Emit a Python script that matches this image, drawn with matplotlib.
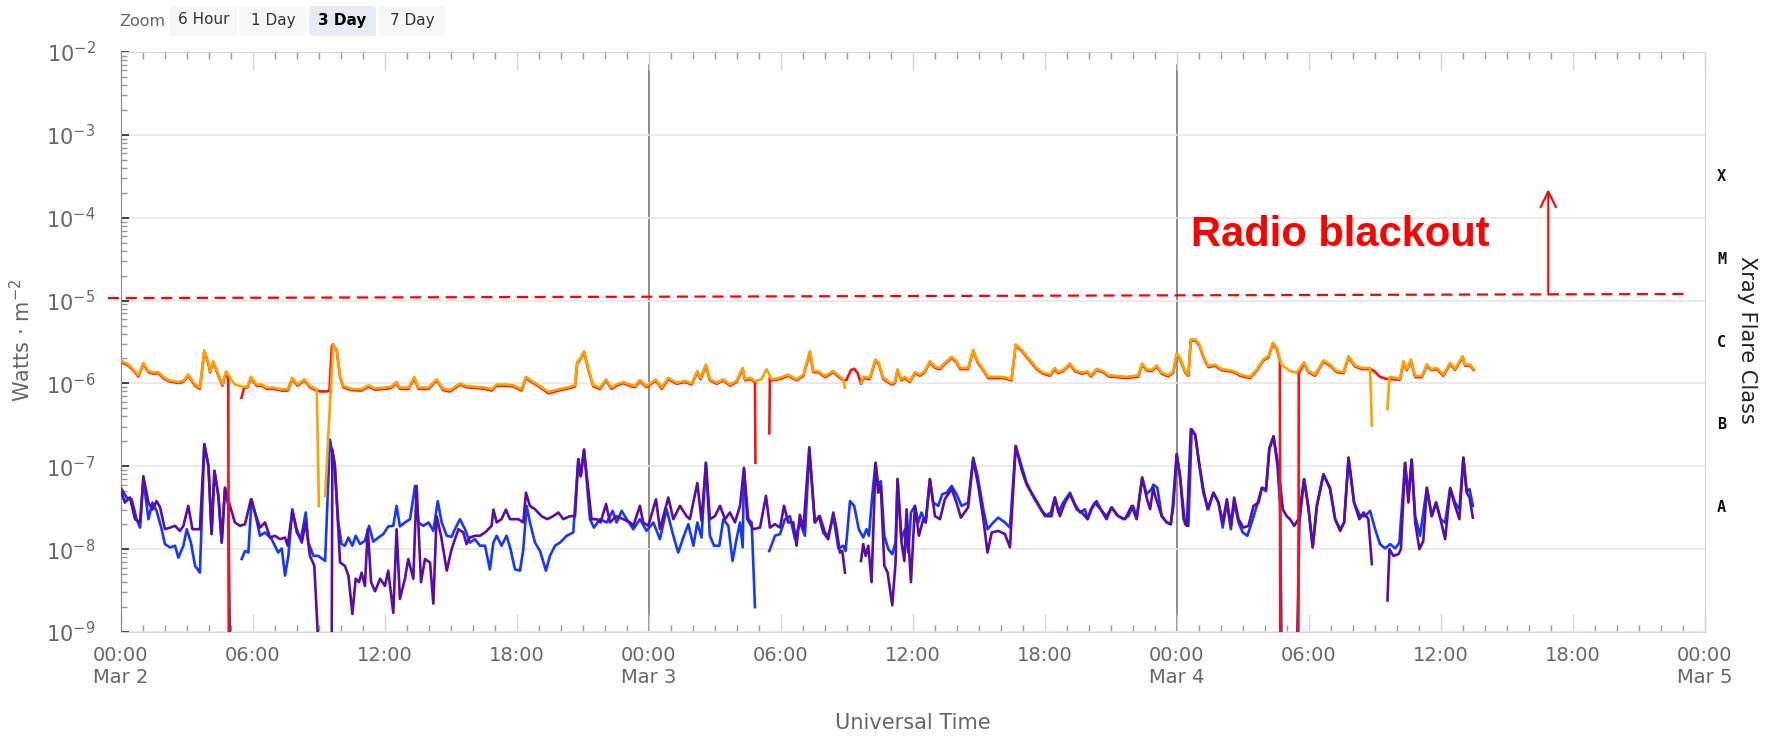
import numpy as np
import matplotlib
matplotlib.use("Agg")
import matplotlib.pyplot as plt
from matplotlib import ticker, transforms
from matplotlib.patches import FancyBboxPatch

nan = np.nan

# long channel, (hours since Mar 2 00:00 UT, flux in 1e-6 W/m2)
orange_long = [
    (0.05, 1.86), (0.36, 1.69), (0.58, 1.48), (0.81, 1.25), (1.04, 1.77), (1.27, 1.41), (1.49, 1.35),
    (1.72, 1.37), (1.95, 1.20), (2.17, 1.10), (2.63, 1.04), (2.85, 1.07), (3.08, 1.28), (3.39, 0.97),
    (3.61, 0.89), (3.81, 2.50), (4.00, 1.77), (4.07, 1.40), (4.22, 1.86), (4.45, 1.28), (4.63, 0.97),
    (4.80, 1.40), (4.98, 1.17), (5.20, 0.97), (5.58, 0.91), (5.78, 0.92), (5.93, 1.20), (6.19, 0.97),
    (6.42, 0.97), (6.64, 0.89), (6.95, 0.89), (7.33, 0.85), (7.60, 0.85), (7.81, 1.17), (8.05, 0.97),
    (8.36, 1.12), (8.61, 0.93), (8.92, 0.85), (9.02, 0.033), (9.1, nan), (9.30, 0.044), (9.67, 2.95),
    (9.83, 2.56), (9.98, 1.23), (10.13, 0.93), (10.50, 0.86), (10.96, 0.85), (11.27, 0.95), (11.57, 0.87),
    (12.00, 0.89), (12.30, 0.91), (12.55, 1.04), (12.70, 0.89), (13.10, 0.89), (13.36, 1.20), (13.54, 0.89),
    (14.00, 0.89), (14.37, 1.12), (14.67, 0.86), (14.98, 0.83), (15.43, 1.00), (15.73, 0.93), (16.19, 0.91),
    (16.57, 0.89), (16.87, 0.85), (17.10, 0.97), (17.55, 0.97), (17.85, 0.95), (18.23, 0.85), (18.43, 1.20),
    (18.69, 1.07), (19.07, 0.93), (19.45, 0.79), (19.98, 0.86), (20.43, 0.91), (20.66, 0.95), (20.76, 1.80),
    (20.91, 2.03), (21.07, 2.45), (21.26, 1.54), (21.49, 0.95), (21.79, 0.89), (22.07, 1.12), (22.32, 0.89),
    (22.55, 0.97), (22.85, 1.04), (23.16, 0.97), (23.38, 0.93), (23.61, 1.10), (23.91, 0.93), (24.34, 1.12),
    (24.60, 0.89), (24.90, 1.17), (25.28, 1.02), (25.66, 1.07), (25.96, 1.00), (26.22, 1.41), (26.37, 1.17),
    (26.61, 1.69), (26.79, 1.12), (27.10, 1.02), (27.40, 1.12), (27.70, 0.97), (28.00, 1.07), (28.28, 1.54),
    (28.39, 1.12), (28.61, 1.17), (28.84, 1.07), (29.14, 1.12), (29.37, 1.48), (29.60, 1.12), (29.98, 1.17),
    (30.35, 1.28), (30.73, 1.12), (31.04, 1.28), (31.34, 2.45), (31.49, 1.41), (31.72, 1.41), (32.02, 1.23),
    (32.40, 1.41), (32.63, 1.25), (32.85, 1.12), (32.93, 0.89), (33.0, nan), (33.66, 1.02), (33.76, 1.20),
    (34.06, 1.17), (34.32, 1.95), (34.47, 1.77), (34.67, 1.17), (35.05, 1.00), (35.20, 1.04), (35.32, 1.48),
    (35.50, 1.12), (35.66, 1.20), (35.88, 1.07), (36.11, 1.37), (36.34, 1.28), (36.56, 1.41), (36.79, 1.86),
    (37.02, 1.59), (37.25, 1.54), (37.47, 1.77), (37.78, 2.10), (38.00, 1.86), (38.16, 1.54), (38.53, 1.54),
    (38.76, 2.56), (38.96, 1.86), (39.22, 1.48), (39.44, 1.20), (39.75, 1.20), (40.13, 1.20), (40.50, 1.12),
    (40.69, 2.95), (40.96, 2.56), (41.26, 2.04), (41.64, 1.54), (41.94, 1.35), (42.25, 1.28), (42.47, 1.54),
    (42.63, 1.37), (42.85, 1.45), (43.16, 1.74), (43.38, 1.45), (43.69, 1.35), (43.96, 1.40), (44.11, 1.25),
    (44.37, 1.50), (44.67, 1.40), (44.93, 1.25), (45.35, 1.23), (45.73, 1.20), (46.26, 1.25), (46.44, 1.74),
    (46.64, 1.48), (46.87, 1.45), (47.10, 1.65), (47.33, 1.35), (47.63, 1.25), (47.86, 1.41), (48.01, 2.30),
    (48.16, 2.04), (48.39, 1.41), (48.54, 1.28), (48.65, 3.40), (48.85, 3.40), (49.04, 3.00), (49.22, 2.14),
    (49.45, 1.62), (49.75, 1.69), (50.06, 1.48), (50.36, 1.45), (50.59, 1.41), (50.89, 1.28), (51.35, 1.20),
    (51.65, 1.48), (51.95, 1.95), (52.18, 2.14), (52.38, 3.10), (52.56, 2.70), (52.78, 1.69), (53.16, 1.41),
    (53.47, 1.35), (53.80, 1.80), (54.00, 1.41), (54.30, 1.28), (54.68, 1.90), (54.98, 1.69), (55.28, 1.41),
    (55.59, 1.37), (55.82, 2.14), (56.12, 1.65), (56.42, 1.54), (56.80, 1.54), (56.88, 0.31), (57.0, nan),
    (57.59, 0.49), (57.68, 1.20), (58.16, 1.14), (58.32, 1.86), (58.47, 1.48), (58.66, 1.95), (58.85, 1.23),
    (59.15, 1.23), (59.38, 1.69), (59.60, 1.48), (59.83, 1.54), (60.13, 1.28), (60.44, 1.77), (60.66, 1.50),
    (61.01, 2.14), (61.12, 1.69), (61.35, 1.69), (61.50, 1.50),
]

red_long = [
    (0.05, 1.80), (0.36, 1.64), (0.58, 1.44), (0.81, 1.21), (1.04, 1.72), (1.27, 1.37), (1.49, 1.31),
    (1.72, 1.33), (1.95, 1.16), (2.17, 1.07), (2.63, 1.01), (2.85, 1.04), (3.08, 1.24), (3.39, 0.94),
    (3.61, 0.86), (3.81, 2.45), (4.00, 1.72), (4.07, 1.36), (4.22, 1.80), (4.45, 1.24), (4.63, 0.94),
    (4.80, 1.36), (4.90, 1.15), (4.92, 0.0005), (5.2, nan), (5.50, 0.67), (5.62, 0.89), (5.78, 0.90),
    (5.93, 1.16), (6.19, 0.94), (6.42, 0.94), (6.64, 0.86), (6.95, 0.86), (7.33, 0.82), (7.60, 0.82),
    (7.81, 1.13), (8.05, 0.94), (8.36, 1.09), (8.61, 0.90), (8.92, 0.82), (9.10, 0.80), (9.35, 0.80),
    (9.50, 0.82), (9.60, 2.70), (9.65, 2.95), (9.83, 2.50), (9.98, 1.20), (10.13, 0.90), (10.50, 0.83),
    (10.96, 0.82), (11.27, 0.92), (11.57, 0.84), (12.00, 0.86), (12.30, 0.88), (12.55, 1.01), (12.70, 0.86),
    (13.10, 0.86), (13.36, 1.16), (13.54, 0.86), (14.00, 0.86), (14.37, 1.09), (14.67, 0.83), (14.98, 0.80),
    (15.43, 0.97), (15.73, 0.90), (16.19, 0.88), (16.57, 0.86), (16.87, 0.82), (17.10, 0.94), (17.55, 0.94),
    (17.85, 0.92), (18.23, 0.82), (18.43, 1.16), (18.69, 1.04), (19.07, 0.90), (19.45, 0.76), (19.98, 0.83),
    (20.43, 0.88), (20.66, 0.92), (20.76, 1.75), (20.91, 1.97), (21.07, 2.38), (21.26, 1.49), (21.49, 0.92),
    (21.79, 0.86), (22.07, 1.09), (22.32, 0.86), (22.55, 0.94), (22.85, 1.01), (23.16, 0.94), (23.38, 0.90),
    (23.61, 1.07), (23.91, 0.90), (24.34, 1.09), (24.60, 0.86), (24.90, 1.13), (25.28, 0.99), (25.66, 1.04),
    (25.96, 0.97), (26.22, 1.37), (26.37, 1.13), (26.61, 1.64), (26.79, 1.09), (27.10, 0.99), (27.40, 1.09),
    (27.70, 0.94), (28.00, 1.04), (28.28, 1.49), (28.39, 1.09), (28.61, 1.13), (28.84, 1.04), (28.86, 0.11),
    (29.0, nan), (29.49, 0.25), (29.52, 1.20), (29.60, 1.09), (29.98, 1.13), (30.35, 1.24), (30.73, 1.09),
    (31.04, 1.24), (31.34, 2.38), (31.49, 1.37), (31.72, 1.37), (32.02, 1.19), (32.40, 1.37), (32.63, 1.21),
    (32.85, 1.09), (33.00, 1.10), (33.20, 1.45), (33.35, 1.50), (33.50, 1.35), (33.66, 0.99), (33.76, 1.16),
    (34.06, 1.13), (34.32, 1.90), (34.47, 1.72), (34.67, 1.13), (35.05, 0.97), (35.20, 1.01), (35.32, 1.44),
    (35.50, 1.09), (35.66, 1.16), (35.88, 1.04), (36.11, 1.33), (36.34, 1.24), (36.56, 1.37), (36.79, 1.80),
    (37.02, 1.54), (37.25, 1.49), (37.47, 1.72), (37.78, 2.04), (38.00, 1.80), (38.16, 1.49), (38.53, 1.49),
    (38.76, 2.48), (38.96, 1.80), (39.22, 1.44), (39.44, 1.16), (39.75, 1.16), (40.13, 1.16), (40.50, 1.09),
    (40.69, 2.86), (40.96, 2.48), (41.26, 1.98), (41.64, 1.49), (41.94, 1.31), (42.25, 1.24), (42.47, 1.49),
    (42.63, 1.33), (42.85, 1.41), (43.16, 1.69), (43.38, 1.41), (43.69, 1.31), (43.96, 1.36), (44.11, 1.21),
    (44.37, 1.46), (44.67, 1.36), (44.93, 1.21), (45.35, 1.19), (45.73, 1.16), (46.26, 1.21), (46.44, 1.69),
    (46.64, 1.44), (46.87, 1.41), (47.10, 1.60), (47.33, 1.31), (47.63, 1.21), (47.86, 1.37), (48.01, 2.23),
    (48.16, 1.98), (48.39, 1.37), (48.54, 1.24), (48.65, 3.30), (48.85, 3.30), (49.04, 2.91), (49.22, 2.08),
    (49.45, 1.57), (49.75, 1.64), (50.06, 1.44), (50.36, 1.41), (50.59, 1.37), (50.89, 1.24), (51.35, 1.16),
    (51.65, 1.44), (51.95, 1.89), (52.18, 2.08), (52.38, 3.00), (52.56, 2.62), (52.70, 1.90), (52.72, 0.0005),
    (53.0, nan), (53.54, 0.0005), (53.56, 1.33), (53.80, 1.75), (54.00, 1.37), (54.30, 1.24), (54.68, 1.84),
    (54.98, 1.64), (55.28, 1.37), (55.59, 1.33), (55.82, 2.08), (56.12, 1.60), (56.42, 1.49), (56.80, 1.50),
    (57.00, 1.40), (57.25, 1.20), (57.50, 1.14), (57.68, 1.13), (58.16, 1.11), (58.32, 1.80), (58.47, 1.44),
    (58.66, 1.89), (58.85, 1.19), (59.15, 1.19), (59.38, 1.64), (59.60, 1.44), (59.83, 1.49), (60.13, 1.24),
    (60.44, 1.72), (60.66, 1.46), (61.01, 2.08), (61.12, 1.64), (61.35, 1.64), (61.50, 1.46),
]

# short channel, flux in 1e-8 W/m2
blue_short = [
    (0.05, 5.3), (0.28, 4.2), (0.51, 4.0), (0.73, 2.3), (0.89, 1.82), (1.04, 7.0), (1.27, 2.3),
    (1.45, 3.65), (1.64, 2.9), (1.87, 1.74), (2.02, 1.15), (2.25, 1.05), (2.48, 1.10), (2.63, 0.79),
    (2.86, 1.10), (3.01, 1.74), (3.20, 1.20), (3.39, 0.63), (3.61, 0.52), (3.81, 18.5), (4.00, 10.0),
    (4.14, 1.52), (4.27, 8.8), (4.45, 4.4), (4.60, 1.20), (4.75, 5.5), (4.90, 3.33), (4.98, 0.05),
    (5.2, nan), (5.51, 0.76), (5.66, 0.95), (5.81, 0.91), (5.96, 4.0), (6.11, 2.77), (6.34, 1.45),
    (6.57, 1.59), (6.87, 1.32), (7.17, 0.91), (7.33, 1.02), (7.48, 0.48), (7.63, 0.83), (7.81, 3.03),
    (8.01, 1.59), (8.20, 1.32), (8.42, 2.77), (8.54, 1.20), (8.77, 0.83), (8.99, 0.83), (9.30, 0.72),
    (9.52, 21.0), (9.72, 11.0), (9.90, 2.10), (10.05, 1.15), (10.20, 1.10), (10.36, 1.38), (10.54, 1.10),
    (10.69, 1.45), (10.89, 1.15), (11.11, 1.26), (11.30, 1.91), (11.49, 1.23), (11.72, 1.38), (11.95, 1.52),
    (12.17, 1.88), (12.40, 1.91), (12.55, 3.33), (12.70, 1.88), (12.93, 2.10), (13.16, 2.30), (13.39, 5.8),
    (13.54, 2.10), (13.77, 1.91), (14.00, 2.10), (14.22, 1.66), (14.42, 3.8), (14.60, 2.10), (14.83, 1.45),
    (15.05, 1.41), (15.20, 1.74), (15.43, 2.30), (15.66, 1.74), (15.88, 1.20), (16.11, 1.32), (16.34, 1.10),
    (16.57, 1.10), (16.79, 0.57), (16.95, 1.20), (17.10, 1.45), (17.32, 1.10), (17.55, 1.45), (17.73, 1.00),
    (17.93, 0.57), (18.16, 0.55), (18.31, 1.00), (18.46, 3.33), (18.61, 2.10), (18.84, 1.20), (19.07, 0.95),
    (19.34, 0.55), (19.52, 0.83), (19.75, 1.10), (19.98, 1.20), (20.28, 1.45), (20.58, 1.59), (20.81, 12.2),
    (20.92, 7.6), (21.07, 16.0), (21.34, 2.30), (21.52, 1.82), (21.79, 2.30), (22.10, 2.10), (22.37, 2.90),
    (22.55, 2.10), (22.78, 2.90), (23.01, 2.30), (23.31, 1.74), (23.61, 2.30), (23.91, 1.66), (24.22, 2.10),
    (24.52, 1.32), (24.82, 3.03), (25.13, 1.45), (25.35, 0.91), (25.58, 1.38), (25.81, 2.00), (26.04, 1.10),
    (26.22, 2.10), (26.41, 1.38), (26.61, 11.0), (26.79, 1.45), (26.98, 1.10), (27.22, 1.10), (27.40, 2.30),
    (27.63, 1.91), (27.82, 0.72), (28.00, 1.32), (28.16, 2.10), (28.28, 1.05), (28.34, 9.2), (28.54, 2.30),
    (28.69, 2.10), (28.84, 0.20), (29.0, nan), (29.49, 0.95), (29.75, 1.45), (29.98, 1.52), (30.20, 2.30),
    (30.43, 2.50), (30.66, 1.32), (30.88, 2.10), (31.11, 1.45), (31.31, 16.0), (31.56, 2.10), (31.79, 2.50),
    (32.02, 1.59), (32.17, 1.45), (32.40, 2.50), (32.63, 1.02), (32.85, 1.10), (32.96, 0.95), (33.16, 3.8),
    (33.35, 3.33), (33.56, 1.74), (33.76, 1.38), (33.91, 1.74), (34.02, 1.45), (34.17, 4.4), (34.32, 11.0),
    (34.47, 5.3), (34.56, 6.6), (34.72, 1.45), (34.90, 1.00), (35.08, 0.87), (35.23, 1.20), (35.32, 7.0),
    (35.50, 1.32), (35.66, 1.74), (35.81, 0.91), (35.93, 2.77), (36.11, 3.33), (36.26, 2.10), (36.41, 2.77),
    (36.60, 2.10), (36.79, 7.0), (36.94, 3.65), (37.17, 3.33), (37.35, 4.6), (37.55, 4.8), (37.78, 5.8),
    (38.00, 4.6), (38.23, 3.33), (38.53, 3.65), (38.76, 12.7), (38.96, 7.6), (39.22, 3.03), (39.41, 1.74),
    (39.67, 2.10), (39.90, 2.40), (40.20, 2.10), (40.43, 1.82), (40.69, 17.6), (40.96, 10.0), (41.19, 6.3),
    (41.41, 4.8), (41.72, 3.5), (42.02, 2.5), (42.29, 2.77), (42.47, 4.2), (42.63, 2.77), (42.85, 3.65),
    (43.16, 4.8), (43.38, 3.5), (43.61, 2.77), (43.84, 3.03), (43.96, 2.30), (44.14, 3.03), (44.37, 3.8),
    (44.60, 2.9), (44.82, 2.5), (45.05, 3.2), (45.28, 2.6), (45.58, 2.3), (45.81, 2.5), (46.03, 3.33),
    (46.19, 2.4), (46.44, 7.3), (46.64, 4.6), (46.87, 5.3), (46.95, 6.0), (47.13, 5.5), (47.33, 2.5),
    (47.56, 2.1), (47.74, 2.0), (47.86, 3.33), (48.01, 14.0), (48.16, 7.6), (48.39, 2.0), (48.54, 1.91),
    (48.69, 28.0), (48.85, 24.0), (49.04, 10.0), (49.22, 4.8), (49.45, 3.03), (49.68, 4.8), (49.91, 3.65),
    (50.10, 1.82), (50.29, 3.65), (50.47, 1.74), (50.62, 3.65), (50.82, 2.10), (51.01, 1.59), (51.22, 1.45),
    (51.42, 2.10), (51.65, 3.33), (51.88, 5.5), (52.07, 5.0), (52.22, 16.0), (52.41, 23.0), (52.59, 10.0),
    (52.71, 3.33), (52.78, 0.05), (53.0, nan), (53.47, 0.05), (53.59, 2.10), (53.80, 7.0), (54.00, 3.03),
    (54.19, 1.05), (54.38, 3.33), (54.68, 8.0), (54.98, 5.5), (55.21, 2.3), (55.44, 1.74), (55.62, 2.10),
    (55.82, 12.7), (56.07, 3.65), (56.35, 2.5), (56.57, 2.5), (56.80, 2.9), (57.03, 1.74), (57.25, 1.15),
    (57.48, 1.02), (57.71, 1.15), (57.94, 1.02), (58.13, 1.2), (58.39, 11.0), (58.54, 4.4), (58.69, 12.0),
    (58.85, 2.5), (59.07, 1.45), (59.38, 5.5), (59.60, 2.5), (59.80, 3.65), (60.00, 2.3), (60.21, 2.1),
    (60.44, 5.5), (60.66, 3.65), (60.86, 3.03), (61.04, 12.7), (61.19, 5.0), (61.32, 5.3), (61.47, 3.33),
]

purple_short = [
    (0.05, 4.8), (0.20, 3.65), (0.43, 4.2), (0.66, 2.3), (0.89, 2.1), (1.04, 7.6), (1.27, 3.65),
    (1.45, 3.0), (1.64, 3.8), (1.80, 3.2), (2.02, 1.74), (2.25, 1.82), (2.48, 1.91), (2.70, 1.66),
    (2.86, 1.91), (3.08, 3.33), (3.27, 1.74), (3.61, 1.74), (3.81, 18.5), (4.00, 10.0), (4.14, 1.52),
    (4.27, 8.8), (4.45, 4.4), (4.60, 1.2), (4.75, 5.5), (4.98, 3.3), (5.20, 2.1), (5.43, 1.91),
    (5.66, 2.0), (5.93, 4.0), (6.11, 2.77), (6.34, 1.82), (6.57, 2.1), (6.80, 1.38), (7.02, 1.45),
    (7.25, 1.32), (7.48, 1.38), (7.60, 1.1), (7.81, 2.9), (8.01, 1.74), (8.24, 1.2), (8.42, 2.1),
    (8.61, 0.83), (8.81, 0.63), (9.02, 0.05), (9.3, nan), (9.60, 0.05), (9.63, 16.0), (9.75, 10.0),
    (9.98, 0.69), (10.20, 0.63), (10.36, 0.48), (10.54, 0.165), (10.69, 0.44), (10.84, 0.40), (10.96, 0.52),
    (11.11, 0.36), (11.24, 1.74), (11.39, 0.40), (11.57, 0.31), (11.80, 0.44), (12.02, 0.36), (12.17, 0.55),
    (12.40, 0.17), (12.55, 1.74), (12.70, 0.25), (12.93, 0.44), (13.08, 0.76), (13.31, 0.44), (13.46, 5.8),
    (13.66, 0.40), (13.84, 0.76), (14.07, 0.69), (14.22, 0.22), (14.37, 2.5), (14.57, 1.45), (14.83, 0.55),
    (15.05, 1.0), (15.36, 1.74), (15.58, 1.59), (15.73, 1.15), (15.88, 1.38), (16.11, 1.45), (16.34, 1.45),
    (16.57, 1.59), (16.87, 1.91), (16.95, 3.0), (17.10, 2.1), (17.32, 2.3), (17.52, 3.0), (17.70, 2.3),
    (18.08, 2.3), (18.31, 2.1), (18.43, 4.8), (18.61, 3.33), (18.84, 3.03), (19.14, 2.5), (19.40, 2.3),
    (19.67, 2.5), (19.90, 2.77), (20.13, 2.3), (20.43, 2.5), (20.66, 2.5), (20.81, 12.2), (20.92, 7.6),
    (21.07, 15.7), (21.26, 5.3), (21.41, 2.3), (21.64, 2.3), (21.82, 2.1), (22.07, 3.5), (22.25, 2.1),
    (22.52, 2.5), (22.85, 2.3), (23.16, 2.1), (23.31, 1.91), (23.61, 3.33), (23.76, 2.1), (23.99, 1.91),
    (24.34, 4.0), (24.52, 1.74), (24.90, 4.2), (25.13, 2.3), (25.43, 3.33), (25.73, 2.5), (25.88, 2.3),
    (26.22, 6.3), (26.41, 2.2), (26.61, 11.0), (26.79, 2.3), (27.02, 2.5), (27.25, 3.33), (27.48, 2.3),
    (27.70, 2.77), (27.93, 2.1), (28.16, 3.33), (28.34, 9.6), (28.49, 2.3), (28.76, 1.74), (29.07, 1.82),
    (29.34, 4.4), (29.52, 1.82), (29.75, 2.0), (29.98, 1.82), (30.16, 3.33), (30.35, 2.1), (30.58, 2.1),
    (30.73, 1.1), (30.88, 2.6), (31.04, 1.74), (31.31, 17.0), (31.56, 2.1), (31.75, 2.5), (31.94, 1.59),
    (32.17, 1.32), (32.40, 2.77), (32.55, 1.74), (32.70, 0.91), (32.81, 0.95), (32.93, 0.52), (33.2, nan),
    (33.66, 0.72), (33.76, 1.15), (33.87, 0.83), (33.99, 1.1), (34.14, 0.40), (34.32, 11.0), (34.44, 4.8),
    (34.56, 5.8), (34.72, 0.63), (34.87, 0.52), (35.08, 0.21), (35.23, 0.69), (35.32, 7.0), (35.50, 1.2),
    (35.63, 0.72), (35.73, 3.03), (35.93, 0.40), (36.11, 3.33), (36.29, 1.45), (36.49, 2.3), (36.60, 2.1),
    (36.79, 7.0), (37.02, 2.5), (37.25, 2.3), (37.47, 4.0), (37.78, 5.3), (38.00, 3.65), (38.20, 2.4),
    (38.53, 3.2), (38.76, 12.0), (38.99, 5.8), (39.22, 2.3), (39.41, 0.91), (39.60, 1.59), (39.90, 1.66),
    (40.20, 1.52), (40.43, 1.05), (40.69, 17.5), (40.96, 9.0), (41.19, 6.0), (41.56, 4.0), (41.87, 2.9),
    (42.10, 2.5), (42.32, 2.5), (42.47, 4.2), (42.70, 2.5), (42.93, 3.65), (43.16, 4.6), (43.46, 3.03),
    (43.69, 2.77), (43.96, 2.3), (44.11, 3.03), (44.29, 3.65), (44.60, 2.9), (44.82, 2.3), (45.05, 3.2),
    (45.35, 2.5), (45.66, 2.3), (45.96, 3.33), (46.19, 2.3), (46.44, 7.3), (46.64, 4.2), (46.80, 3.03),
    (46.94, 5.5), (47.03, 4.4), (47.33, 2.5), (47.56, 2.1), (47.74, 2.0), (47.83, 3.33), (48.01, 14.0),
    (48.16, 7.6), (48.32, 2.3), (48.47, 1.91), (48.65, 28.0), (48.85, 24.0), (49.04, 10.5), (49.22, 5.3),
    (49.41, 3.03), (49.68, 4.8), (49.91, 3.65), (50.10, 2.1), (50.29, 4.0), (50.47, 1.91), (50.62, 4.2),
    (50.82, 2.3), (51.04, 1.82), (51.27, 1.91), (51.50, 3.33), (51.73, 3.65), (51.88, 5.5), (52.07, 5.3),
    (52.22, 16.6), (52.41, 23.0), (52.63, 10.0), (52.83, 3.03), (53.01, 2.5), (53.16, 2.3), (53.35, 1.91),
    (53.54, 2.3), (53.80, 7.0), (54.00, 3.2), (54.19, 1.05), (54.38, 3.33), (54.68, 8.0), (54.98, 5.3),
    (55.21, 2.3), (55.44, 1.66), (55.62, 2.1), (55.82, 12.7), (56.07, 3.65), (56.31, 2.3), (56.50, 2.77),
    (56.72, 2.3), (56.88, 0.66), (57.0, nan), (57.59, 0.24), (57.68, 1.0), (57.86, 0.83), (58.09, 0.87),
    (58.20, 1.0), (58.39, 11.0), (58.54, 3.65), (58.69, 12.0), (58.85, 2.1), (59.04, 1.0), (59.22, 1.26),
    (59.38, 5.5), (59.60, 2.5), (59.80, 3.65), (60.00, 2.3), (60.21, 1.32), (60.44, 5.3), (60.66, 3.33),
    (60.86, 2.3), (61.04, 12.7), (61.19, 4.8), (61.32, 4.2), (61.47, 2.4),
]

x_ticks = [0, 6, 12, 18, 24, 30, 36, 42, 48, 54, 60, 66, 72]
x_tick_labels = ["00:00\nMar 2", "06:00", "12:00", "18:00", "00:00\nMar 3", "06:00", "12:00",
                 "18:00", "00:00\nMar 4", "06:00", "12:00", "18:00", "00:00\nMar 5"]
day_lines = [24, 48]
flare_classes = ["X", "M", "C", "B", "A"]
class_centers = [3.16e-4, 3.16e-5, 3.16e-6, 3.16e-7, 3.16e-8]
threshold_x = [-0.57, 71.1]
threshold_y = [1.07e-5, 1.20e-5]
arrow_x = 64.9
arrow_y = [1.19e-5, 2.2e-4]
zoom_buttons = ["6 Hour", "1 Day", "3 Day", "7 Day"]
selected_button = "3 Day"

W, H = 1779, 738
fig = plt.figure(figsize=(W / 100, H / 100), dpi=100)
ax = fig.add_axes([120.5 / W, 1 - 632 / H, 1584 / W, 580 / H])

def draw(series, scale, color, z):
    t, v = np.array(series, dtype=float).T
    ax.plot(t, v * scale, color=color, lw=1.9, zorder=z, solid_joinstyle="round")

draw(blue_short, 1e-8, "#1438ff", 3)
draw(purple_short, 1e-8, "#5a0ca8", 4)
draw(red_long, 1e-6, "#ff1010", 5)
draw(orange_long, 1e-6, "#ffa200", 6)

ax.set_yscale("log")
ax.set_ylim(1e-9, 1e-2)
ax.set_xlim(0, 72)

# grid + day markers
ax.grid(True, axis="y", which="major", color="#e6e6e6", lw=1.2, zorder=0)
for d in day_lines:
    ax.axvline(d, ymin=0, ymax=0.978, color="#7a7a7a", lw=1.2, zorder=1)

ax.set_xticks(x_ticks)
ax.set_xticklabels(x_tick_labels)
ax.set_xticks(range(0, 73), minor=True)
ax.tick_params(axis="x", which="major", direction="in", length=13, width=1, color="#ccd6eb",
               top=True, labelsize=14, labelcolor="#666666", pad=10)
ax.tick_params(axis="x", which="minor", direction="in", length=5, width=1, color="#999999", top=True)

ax.yaxis.set_major_locator(ticker.LogLocator(base=10, numticks=10))
ax.yaxis.set_minor_locator(ticker.LogLocator(base=10, subs=np.arange(2, 10), numticks=20))
ax.yaxis.set_minor_formatter(ticker.NullFormatter())
ax.tick_params(axis="y", which="major", direction="in", length=6, width=1.3, color="#333333",
               labelsize=15, labelcolor="#666666", pad=18)
ax.tick_params(axis="y", which="minor", direction="in", length=4, width=1, color="#999999")

for side in ["top", "right", "bottom"]:
    ax.spines[side].set_color("#ccd6eb")
ax.spines["left"].set_color("#888888")

fig.text(22 / W, 1 - 340 / H, "Watts · m$^{-2}$", rotation=90, ha="center", va="center",
         fontsize=15, color="#666666")
ax.set_xlabel("Universal Time", fontsize=15, color="#666666")
ax.xaxis.set_label_coords(0.5, -0.14)

# flare class labels on the right
trans = transforms.blended_transform_factory(ax.transAxes, ax.transData)
for lab, yc in zip(flare_classes, class_centers):
    ax.text(1.008, yc, lab, transform=trans, ha="left", va="center",
            fontsize=11, fontweight="bold", family="DejaVu Sans Mono", color="#111111")
ax.text(1.027, 0.503, "Xray Flare Class", transform=ax.transAxes, rotation=270,
        ha="center", va="center", fontsize=15, color="#222222")

# radio blackout threshold annotation
ax.plot(threshold_x, threshold_y, color="#ff0000", lw=1.6, ls=(0, (5, 3)), clip_on=False, zorder=7)
ax.annotate("", xy=(arrow_x, arrow_y[1]), xytext=(arrow_x, arrow_y[0]),
            arrowprops=dict(arrowstyle="->", color="#ff0000", lw=1.5, mutation_scale=28,
                            shrinkA=0, shrinkB=0), zorder=7)
ax.text(48.66, 4.6e-5, "Radio blackout", color="#ff0000", fontsize=30, fontweight="bold",
        family="Liberation Sans", ha="left", va="baseline", zorder=7)

# zoom buttons
fig.text(142 / W, 1 - 21 / H, "Zoom", ha="center", va="center", fontsize=11.5, color="#666666")
bx = 170
for name in zoom_buttons:
    sel = name == selected_button
    fig.patches.append(FancyBboxPatch((bx / W, 1 - 36 / H), 67 / W, 30 / H,
                                      boxstyle="round,pad=0,rounding_size=0.003",
                                      transform=fig.transFigure, fc="#e6ebf5" if sel else "#f7f7f7",
                                      ec="none"))
    fig.text((bx + 33.5) / W, 1 - 20 / H, name, ha="center", va="center", fontsize=11,
             color="#000000" if sel else "#333333", fontweight="bold" if sel else "normal")
    bx += 69.5

fig.savefig("out.png", dpi=100)
